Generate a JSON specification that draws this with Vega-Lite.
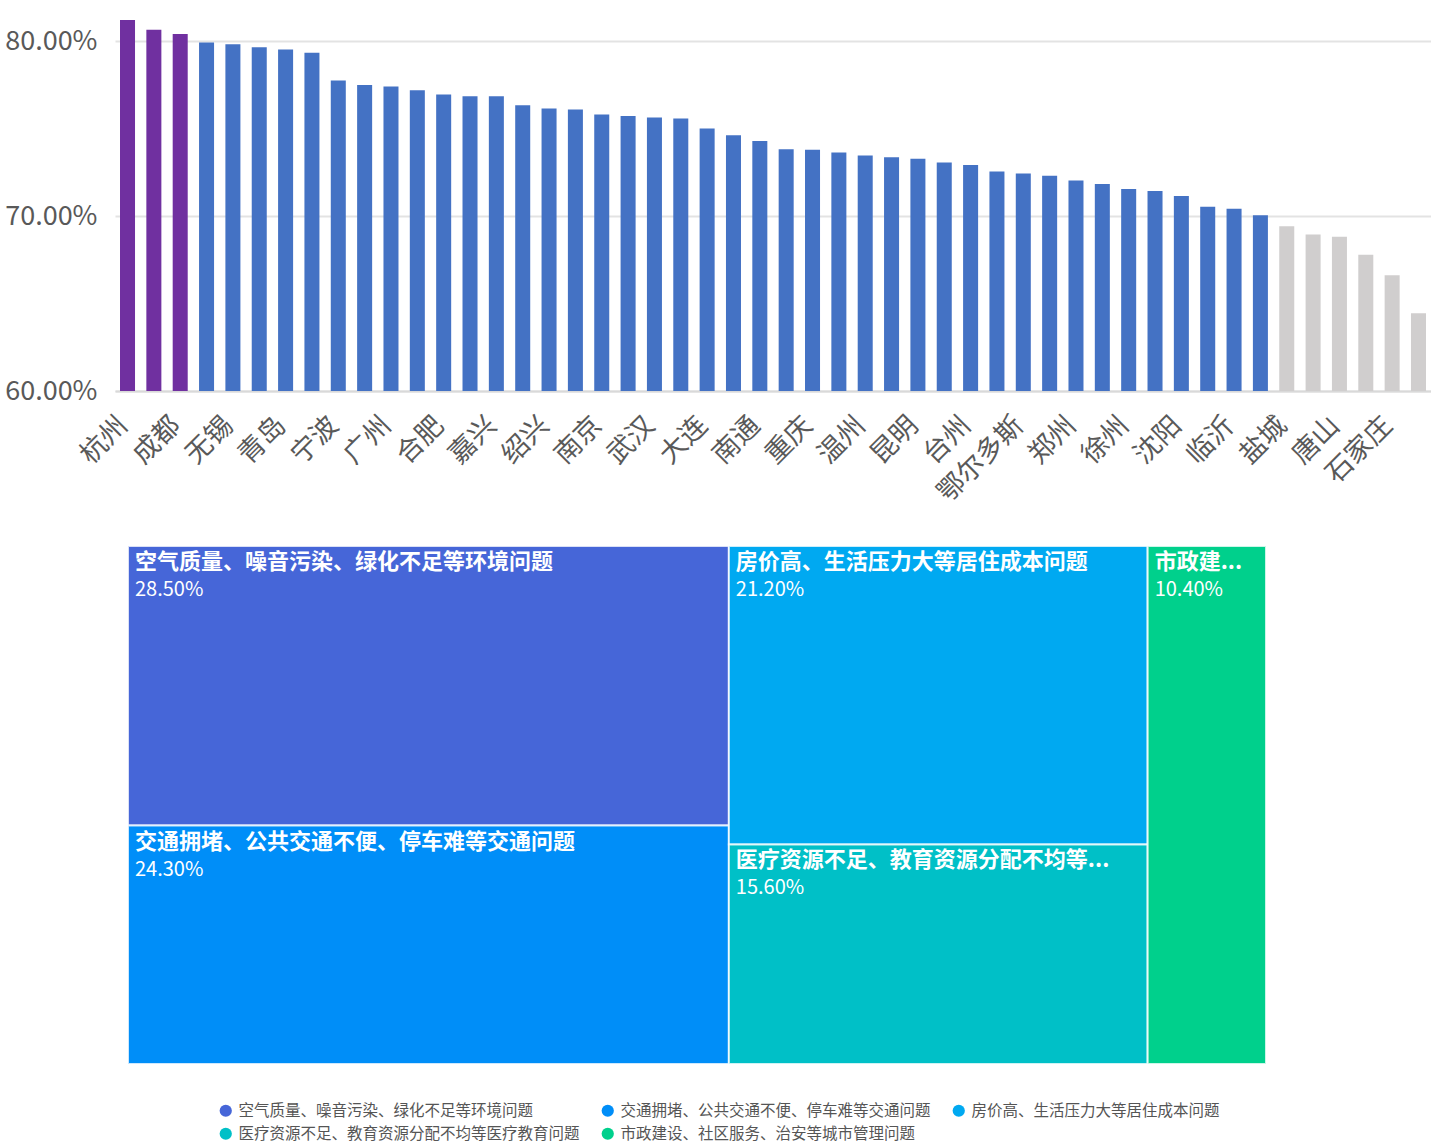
{
  "$schema": "https://vega.github.io/schema/vega-lite/v6.json",
  "padding": {"left": 0, "top": 6, "right": 0, "bottom": 0},
  "background": "white",
  "config": {"view": {"stroke": null}, "font": "Noto Sans CJK SC"},
  "spacing": 34,
  "resolve": {"scale": {"color": "independent"}, "legend": {"color": "independent"}},
  "vconcat": [
    {
      "width": 1316,
      "height": 385,
      "data": {
        "values": [
          {"city": "杭州", "rate": 0.812, "tier": "top"},
          {"city": "西安", "rate": 0.8065, "tier": "top"},
          {"city": "成都", "rate": 0.804, "tier": "top"},
          {"city": "北京", "rate": 0.7992, "tier": "mid"},
          {"city": "无锡", "rate": 0.7981, "tier": "mid"},
          {"city": "苏州", "rate": 0.7964, "tier": "mid"},
          {"city": "青岛", "rate": 0.7952, "tier": "mid"},
          {"city": "厦门", "rate": 0.7933, "tier": "mid"},
          {"city": "宁波", "rate": 0.7774, "tier": "mid"},
          {"city": "长沙", "rate": 0.7749, "tier": "mid"},
          {"city": "广州", "rate": 0.774, "tier": "mid"},
          {"city": "深圳", "rate": 0.7719, "tier": "mid"},
          {"city": "合肥", "rate": 0.7694, "tier": "mid"},
          {"city": "上海", "rate": 0.7685, "tier": "mid"},
          {"city": "嘉兴", "rate": 0.7684, "tier": "mid"},
          {"city": "济南", "rate": 0.7633, "tier": "mid"},
          {"city": "绍兴", "rate": 0.7614, "tier": "mid"},
          {"city": "常州", "rate": 0.7608, "tier": "mid"},
          {"city": "南京", "rate": 0.758, "tier": "mid"},
          {"city": "天津", "rate": 0.7572, "tier": "mid"},
          {"city": "武汉", "rate": 0.7563, "tier": "mid"},
          {"city": "福州", "rate": 0.7557, "tier": "mid"},
          {"city": "大连", "rate": 0.75, "tier": "mid"},
          {"city": "扬州", "rate": 0.7462, "tier": "mid"},
          {"city": "南通", "rate": 0.7428, "tier": "mid"},
          {"city": "烟台", "rate": 0.7382, "tier": "mid"},
          {"city": "重庆", "rate": 0.7378, "tier": "mid"},
          {"city": "泉州", "rate": 0.7363, "tier": "mid"},
          {"city": "温州", "rate": 0.7346, "tier": "mid"},
          {"city": "金华", "rate": 0.7336, "tier": "mid"},
          {"city": "昆明", "rate": 0.7327, "tier": "mid"},
          {"city": "贵阳", "rate": 0.7306, "tier": "mid"},
          {"city": "台州", "rate": 0.7291, "tier": "mid"},
          {"city": "南宁", "rate": 0.7255, "tier": "mid"},
          {"city": "鄂尔多斯", "rate": 0.7243, "tier": "mid"},
          {"city": "太原", "rate": 0.723, "tier": "mid"},
          {"city": "郑州", "rate": 0.7203, "tier": "mid"},
          {"city": "洛阳", "rate": 0.7183, "tier": "mid"},
          {"city": "徐州", "rate": 0.7154, "tier": "mid"},
          {"city": "潍坊", "rate": 0.7143, "tier": "mid"},
          {"city": "沈阳", "rate": 0.7114, "tier": "mid"},
          {"city": "长春", "rate": 0.7053, "tier": "mid"},
          {"city": "临沂", "rate": 0.7042, "tier": "mid"},
          {"city": "哈尔滨", "rate": 0.7004, "tier": "mid"},
          {"city": "盐城", "rate": 0.6941, "tier": "low"},
          {"city": "大庆", "rate": 0.6895, "tier": "low"},
          {"city": "唐山", "rate": 0.6882, "tier": "low"},
          {"city": "保定", "rate": 0.6778, "tier": "low"},
          {"city": "石家庄", "rate": 0.6662, "tier": "low"},
          {"city": "邯郸", "rate": 0.6445, "tier": "low"}
        ]
      },
      "mark": {"type": "bar", "clip": true},
      "encoding": {
        "x": {
          "field": "city",
          "type": "nominal",
          "sort": null,
          "scale": {"paddingInner": 0.43, "paddingOuter": 0.19},
          "axis": {
            "title": null,
            "labelAngle": -45,
            "labelAlign": "right",
            "labelBaseline": "middle",
            "labelFontSize": 27,
            "labelColor": "#595959",
            "labelPadding": 30,
            "labelOffset": -4,
            "labelOverlap": false,
            "labelExpr": "indexof(['杭州','成都','无锡','青岛','宁波','广州','合肥','嘉兴','绍兴','南京','武汉','大连','南通','重庆','温州','昆明','台州','鄂尔多斯','郑州','徐州','沈阳','临沂','盐城','唐山','石家庄'], datum.value) >= 0 ? datum.value : ''",
            "ticks": false,
            "domainColor": "#d9d9d9",
            "domainWidth": 2,
            "minExtent": 120,
            "maxExtent": 120
          }
        },
        "y": {
          "field": "rate",
          "type": "quantitative",
          "scale": {"domain": [0.6, 0.82], "nice": false, "zero": false},
          "axis": {
            "title": null,
            "values": [0.6, 0.7, 0.8],
            "format": ".2%",
            "domain": false,
            "ticks": false,
            "labelFontSize": 27,
            "labelColor": "#595959",
            "labelPadding": 18,
            "gridColor": "#e3e3e3",
            "gridWidth": 2,
            "minExtent": 115,
            "maxExtent": 115
          }
        },
        "y2": {"datum": 0.6},
        "color": {
          "field": "tier",
          "type": "nominal",
          "scale": {"domain": ["top", "mid", "low"], "range": ["#7030A0", "#4472C4", "#D0CECE"]},
          "legend": null
        }
      }
    },
    {
      "width": 1151,
      "height": 518,
      "data": {
        "values": [
          {"name": "空气质量、噪音污染、绿化不足等环境问题", "value": 0.285, "group": "A", "order": 1},
          {"name": "交通拥堵、公共交通不便、停车难等交通问题", "value": 0.243, "group": "A", "order": 2},
          {"name": "房价高、生活压力大等居住成本问题", "value": 0.212, "group": "B", "order": 1},
          {"name": "医疗资源不足、教育资源分配不均等医疗教育问题", "value": 0.156, "group": "B", "order": 2},
          {"name": "市政建设、社区服务、治安等城市管理问题", "value": 0.104, "group": "C", "order": 1}
        ]
      },
      "transform": [
        {"stack": "value", "groupby": [], "sort": [{"field": "group"}, {"field": "order"}], "as": ["sx0", "sx1"]},
        {"joinaggregate": [{"op": "min", "field": "sx0", "as": "gx0"}, {"op": "max", "field": "sx1", "as": "gx1"}], "groupby": ["group"]},
        {"stack": "value", "groupby": ["group"], "sort": [{"field": "order"}], "offset": "normalize", "as": ["gy0", "gy1"]}
      ],
      "encoding": {
        "x": {"field": "gx0", "type": "quantitative", "scale": {"domain": [0, 1], "range": [13, 1151], "nice": false}, "axis": null},
        "y": {"field": "gy0", "type": "quantitative", "scale": {"domain": [0, 1], "reverse": true, "nice": false}, "axis": null}
      },
      "layer": [
        {
          "mark": {"type": "rect", "stroke": "#ffffff", "strokeWidth": 2, "strokeOpacity": 0.8},
          "encoding": {
            "x2": {"field": "gx1"},
            "y2": {"field": "gy1"},
            "color": {
              "field": "name",
              "type": "nominal",
              "sort": null,
              "scale": {
                "domain": [
                  "空气质量、噪音污染、绿化不足等环境问题",
                  "交通拥堵、公共交通不便、停车难等交通问题",
                  "房价高、生活压力大等居住成本问题",
                  "医疗资源不足、教育资源分配不均等医疗教育问题",
                  "市政建设、社区服务、治安等城市管理问题"
                ],
                "range": ["#4666D8", "#008EF8", "#00A9F1", "#00C0C7", "#00D08C"]
              },
              "legend": {
                "orient": "none",
                "direction": "horizontal",
                "legendX": 103,
                "legendY": 557,
                "title": null,
                "columns": 3,
                "gridAlign": "none",
                "symbolType": "circle",
                "symbolSize": 150,
                "symbolStrokeWidth": 0,
                "symbolOpacity": 1,
                "labelFontSize": 15.5,
                "labelColor": "#555555",
                "labelLimit": 500,
                "labelOffset": 5,
                "columnPadding": 20,
                "rowPadding": 6,
                "padding": 0
              }
            }
          }
        },
        {
          "mark": {
            "type": "text",
            "align": "left",
            "baseline": "middle",
            "dx": 7,
            "dy": 16,
            "fontSize": 22,
            "fontWeight": "bold",
            "color": "#ffffff",
            "ellipsis": "...",
            "limit": {"expr": "(datum.gx1 - datum.gx0) * 1138 - 30"}
          },
          "encoding": {"text": {"field": "name"}}
        },
        {
          "mark": {
            "type": "text",
            "align": "left",
            "baseline": "middle",
            "dx": 7,
            "dy": 44,
            "fontSize": 20,
            "color": "#ffffff"
          },
          "encoding": {"text": {"field": "value", "format": ".2%"}}
        }
      ]
    }
  ]
}
